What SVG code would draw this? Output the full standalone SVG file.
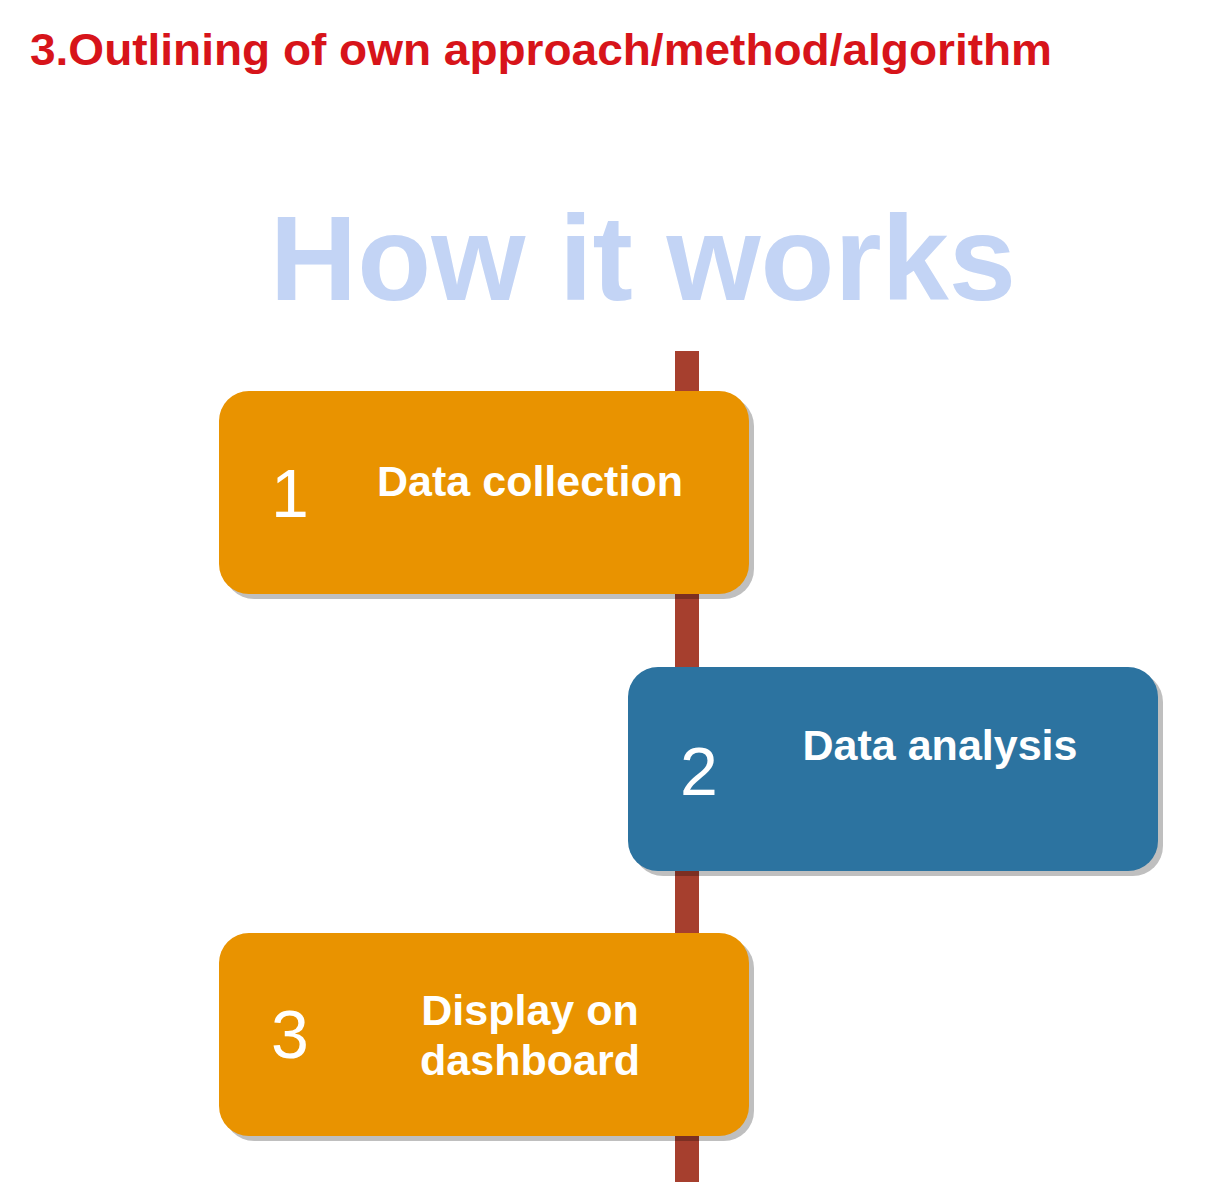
<svg xmlns="http://www.w3.org/2000/svg" width="1226" height="1198" viewBox="0 0 1226 1198">
<style>
.box-shadow{fill:#000;fill-opacity:0.25}
.num{font-family:"Liberation Sans",Arial,sans-serif;font-size:68px;fill:#fff;text-anchor:middle}
.lbl{font-family:"Liberation Sans",Arial,sans-serif;font-weight:bold;font-size:43px;fill:#fff;text-anchor:middle}
.orange{fill:#E99300}
.blue{fill:#2C73A0}
</style>
<rect width="1226" height="1198" fill="#fff"/>
<text x="30" y="65" font-family="Liberation Sans Narrow,Liberation Sans,Arial,sans-serif" font-weight="bold" font-size="45" fill="#D7141A" textLength="1022" lengthAdjust="spacingAndGlyphs">3.Outlining of own approach/method/algorithm</text>
<text x="643" y="300" font-family="Liberation Sans,Arial,sans-serif" font-weight="bold" font-size="121" fill="#C3D4F5" text-anchor="middle">How it works</text>
<g id="connectors">
<rect x="675" y="351" width="24" height="831" fill="#A63F2E"/>
</g>
<g id="step1">
<rect class="box-shadow" x="224" y="396" width="530" height="203" rx="30"/>
<rect class="orange" x="219" y="391" width="530" height="203" rx="30"/>
<text class="num" x="290" y="517">1</text>
<text class="lbl" x="530" y="496">Data collection</text>
</g>
<g id="step2">
<rect class="box-shadow" x="633" y="672" width="530" height="204" rx="30"/>
<rect class="blue" x="628" y="667" width="530" height="204" rx="30"/>
<text class="num" x="699" y="795">2</text>
<text class="lbl" x="940" y="760">Data analysis</text>
</g>
<g id="step3">
<rect class="box-shadow" x="224" y="938" width="530" height="203" rx="30"/>
<rect class="orange" x="219" y="933" width="530" height="203" rx="30"/>
<text class="num" x="290" y="1058">3</text>
<text class="lbl" x="530" y="1025">Display on</text>
<text class="lbl" x="530" y="1075">dashboard</text>
</g>
</svg>
